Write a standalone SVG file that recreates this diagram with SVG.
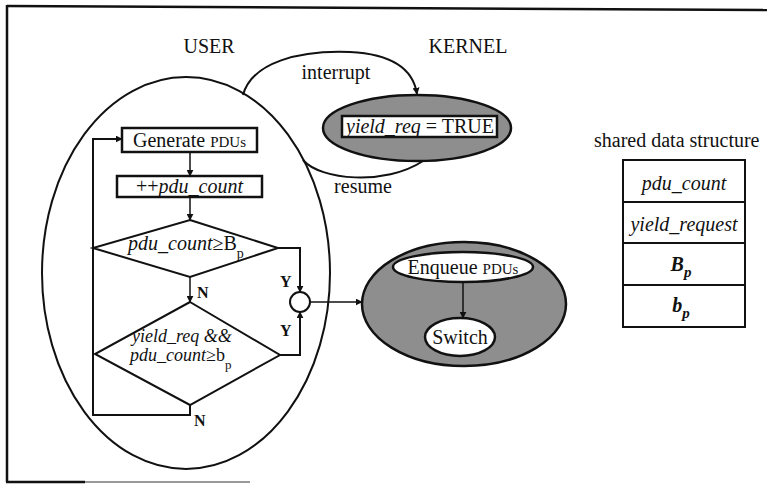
<svg xmlns="http://www.w3.org/2000/svg" width="767" height="484" viewBox="0 0 767 484">
<style>
text{font-family:"Liberation Serif","Times New Roman",serif;fill:#111}
.t{font-size:20px}
.i{font-style:italic}
.sc{font-size:15px}
.lbl{font-size:16px;font-weight:bold}
.ln{fill:none;stroke:#111;stroke-width:2}
.thin{fill:none;stroke:#111;stroke-width:1.5}
.box{fill:#fff;stroke:#111;stroke-width:2.5}
.gray{fill:#8e8e8e;stroke:#111;stroke-width:2.5}
.wel{fill:#fff;stroke:#111;stroke-width:2.5}
</style>
<defs>
<marker id="ah" viewBox="0 0 10 10" refX="9" refY="5" markerWidth="7" markerHeight="7" markerUnits="userSpaceOnUse" orient="auto">
<path d="M0,0 L10,5 L0,10 z" fill="#111"/>
</marker>
</defs>
<g id="frame">
<path d="M7,6 L767,10" stroke="#111" stroke-width="2.5" fill="none"/>
<path d="M7,5 V482" stroke="#111" stroke-width="2.5" fill="none"/>
<path d="M6,482 H85" stroke="#111" stroke-width="2.5" fill="none"/>
<path d="M85,482 H250" stroke="#777" stroke-width="1.5" fill="none"/>
</g>
<g id="titles">
<text class="t" x="209" y="53" text-anchor="middle">USER</text>
<text class="t" x="468" y="53" text-anchor="middle">KERNEL</text>
<text class="t" x="336" y="79" text-anchor="middle">interrupt</text>
<text class="t" x="363" y="193" text-anchor="middle">resume</text>
</g>
<g id="user-space">
<ellipse cx="186" cy="273" rx="144" ry="196" class="ln" stroke-width="2.5"/>
</g>
<g id="kernel-yield">
<ellipse cx="417" cy="128" rx="94" ry="33" class="gray"/>
<rect x="342" y="116" width="155" height="21" class="box" stroke-width="2"/>
<text class="t" x="346" y="133"><tspan class="i">yield_req</tspan> = TRUE</text>
</g>
<g id="generate">
<rect x="122" y="128" width="135" height="24" class="box"/>
<text class="t" x="189.5" y="147" text-anchor="middle">Generate <tspan class="sc">PDUs</tspan></text>
</g>
<g id="increment">
<rect x="117" y="176" width="145" height="21" class="box"/>
<text class="t" x="189.5" y="193" text-anchor="middle">++<tspan class="i">pdu_count</tspan></text>
</g>
<g id="decision1">
<path d="M190,220 L278,248 L190,277 L93,248 Z" class="ln" stroke-width="2.5" fill="#fff"/>
<text class="t" x="128" y="250"><tspan class="i">pdu_count</tspan>≥B<tspan font-size="14" dy="8">p</tspan></text>
</g>
<g id="decision2">
<path d="M190,302 L280,355 L190,405 L95,354 Z" class="ln" stroke-width="2.5" fill="#fff"/>
<text class="i" font-size="18" x="132" y="342">yield_req &amp;&amp;</text>
<text font-size="18" x="130" y="361"><tspan class="i">pdu_count</tspan>≥b<tspan font-size="13" dy="8">p</tspan></text>
</g>
<g id="join">
<ellipse cx="300" cy="302" rx="10" ry="10" class="ln" stroke-width="2.5" fill="#fff"/>
</g>
<g id="kernel-switch">
<ellipse cx="464" cy="304" rx="102" ry="62" class="gray"/>
<ellipse cx="463" cy="267" rx="70" ry="15" class="wel"/>
<text class="t" x="463" y="274" text-anchor="middle">Enqueue <tspan class="sc">PDUs</tspan></text>
<ellipse cx="460" cy="337" rx="35" ry="19" class="wel"/>
<text class="t" x="460" y="344" text-anchor="middle">Switch</text>
</g>
<g id="shared-data">
<text class="t" x="594" y="147" font-size="21">shared data structure</text>
<rect x="623" y="160" width="122" height="167" class="ln"/>
<path d="M623,202 H745 M623,243 H745 M623,285 H745" class="ln"/>
<text class="t i" x="684" y="190" text-anchor="middle">pdu_count</text>
<text class="t i" x="684" y="231" text-anchor="middle">yield_request</text>
<text class="t i" x="681" y="271" font-weight="bold" font-size="21" text-anchor="middle">B<tspan font-size="15" dy="6">p</tspan></text>
<text class="t i" x="681" y="312" font-weight="bold" font-size="21" text-anchor="middle">b<tspan font-size="15" dy="6">p</tspan></text>
</g>
<g id="connectors">
<path d="M243,95 C252,62 300,50 350,52 C390,54 413,68 417,94" class="ln" marker-end="url(#ah)"/>
<path d="M303,160 C320,180 385,186 423,161" class="ln"/>
<path d="M190,152 V176" class="thin" marker-end="url(#ah)"/>
<path d="M190,197 V220" class="thin" marker-end="url(#ah)"/>
<path d="M190,277 V302" class="thin" marker-end="url(#ah)"/>
<path d="M190,405 V415 H93 V139 H122" class="ln" marker-end="url(#ah)"/>
<path d="M278,248 H300 V292" class="ln" marker-end="url(#ah)"/>
<path d="M280,355 H300 V312" class="ln" marker-end="url(#ah)"/>
<path d="M310,302 H362" class="thin" marker-end="url(#ah)"/>
<path d="M463,282 V318" class="thin" marker-end="url(#ah)"/>
<text class="lbl" x="197" y="298">N</text>
<text class="lbl" x="194" y="426">N</text>
<text class="lbl" x="280" y="287">Y</text>
<text class="lbl" x="280" y="336">Y</text>
</g>
</svg>
